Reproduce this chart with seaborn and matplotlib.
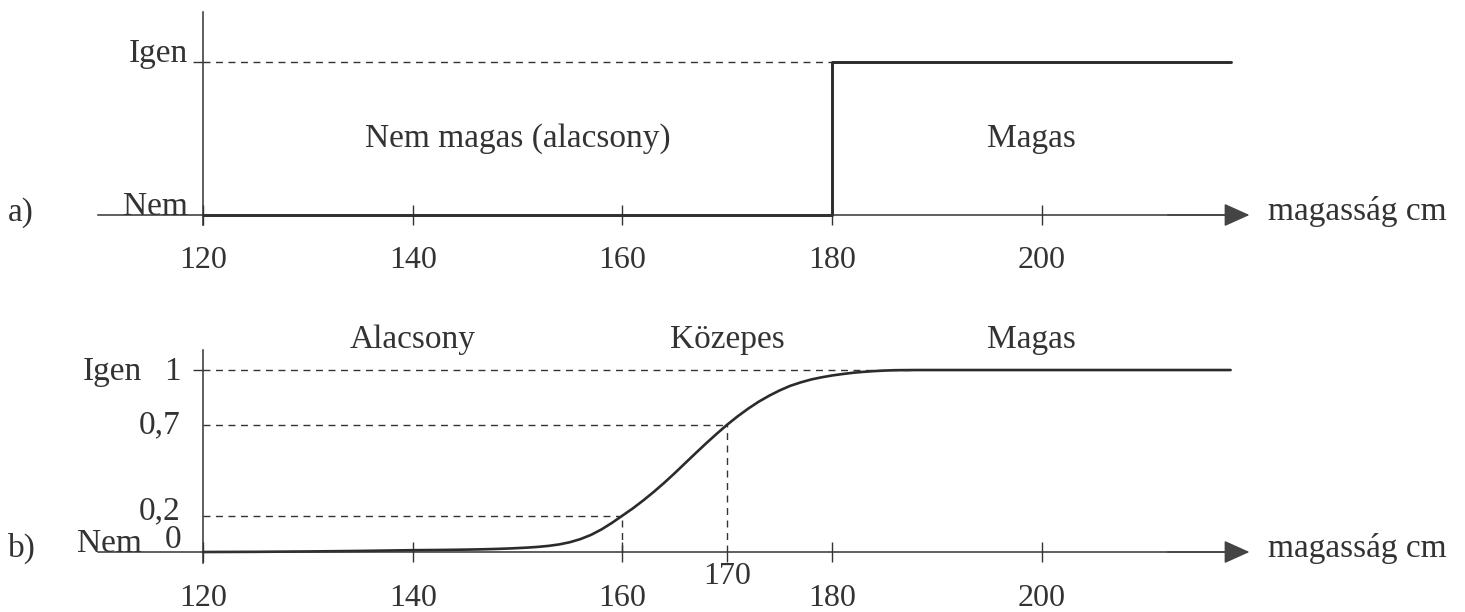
import matplotlib
matplotlib.use("Agg")
import matplotlib.pyplot as plt
import seaborn as sns
import pandas as pd

# ---------------- data ----------------
crisp_height = [120, 180, 180, 218]
crisp_member = [0, 0, 1, 1]

fuzzy_height = [120, 125, 130, 135, 140, 143, 145, 146, 147, 148, 149, 150, 151,
                152, 153, 154, 155, 156, 157, 158, 159, 160, 161, 162, 163, 164,
                165, 166, 167, 168, 169, 170, 171, 172, 173, 174, 175, 176, 177,
                178, 179, 180, 181, 182, 183, 184, 185, 186, 188, 190, 200, 218]
fuzzy_member = [0, 0.001, 0.003, 0.006, 0.01, 0.0115, 0.0131, 0.0141, 0.0154,
                0.017, 0.019, 0.0215, 0.0245, 0.0285, 0.034, 0.042, 0.054, 0.071,
                0.094, 0.124, 0.16, 0.2, 0.24, 0.284, 0.331, 0.381, 0.434, 0.489,
                0.544, 0.598, 0.65, 0.7, 0.746, 0.788, 0.826, 0.859, 0.888, 0.913,
                0.932, 0.948, 0.96, 0.97, 0.978, 0.985, 0.99, 0.994, 0.997, 0.999,
                1.0, 1.0, 1.0, 1.0]

major_ticks = [120, 140, 160, 180, 200]
extra_tick_b = [170]
marked_heights = [160, 170]
marked_levels = [0.2, 0.7]
axis_label = "magasság cm"
crisp_regions = ["Nem magas (alacsony)", "Magas"]
fuzzy_regions = ["Alacsony", "Közepes", "Magas"]

# ---------------- style ----------------
sns.set_style("ticks")
plt.rcParams["font.family"] = ["Liberation Serif", "DejaVu Serif"]
INK = "#333333"
FS = 24
TFS = 23
plt.rcParams["text.color"] = INK

fig = plt.figure(figsize=(14.65, 6.12), dpi=100)
fig.patch.set_facecolor("white")

L = 45.7 / 1465
W = (1304 - 45.7) / 1465
ax1 = fig.add_axes([L, 0.5737, W, 0.4125])
ax2 = fig.add_axes([L, 0.0088, W, 0.4312])

df_a = pd.DataFrame({"h": crisp_height, "m": crisp_member})
df_b = pd.DataFrame({"h": fuzzy_height, "m": fuzzy_member})


def setup(ax, ylim, vtop, vbot, pad):
    ax.set_xlim(105, 225)
    ax.set_ylim(*ylim)
    ax.set_facecolor("none")
    for s in ["top", "right"]:
        ax.spines[s].set_visible(False)
    ax.spines["left"].set_position(("data", 120))
    ax.spines["left"].set_bounds(vbot, vtop)
    ax.spines["bottom"].set_position(("data", 0))
    ax.spines["bottom"].set_bounds(110, 218)
    for s in ["left", "bottom"]:
        ax.spines[s].set_color(INK)
        ax.spines[s].set_linewidth(1.1)
    ax.set_xticks(major_ticks)
    ax.set_xticklabels([str(t) for t in major_ticks])
    ax.tick_params(axis="x", direction="inout", length=14.5, width=1.0,
                   color=INK, labelsize=TFS, labelcolor=INK, pad=pad)
    ax.set_yticks([1])
    ax.set_yticklabels([""])
    ax.tick_params(axis="y", direction="out", length=7, width=1.0, color=INK)
    ax.set_xlabel("")
    ax.set_ylabel("")
    ax.annotate("", xy=(219.8, 0), xytext=(212, 0),
                arrowprops=dict(arrowstyle="-|>,head_length=0.8,head_width=0.36",
                                mutation_scale=20, color="#444444", lw=1.1,
                                shrinkA=0, shrinkB=0))
    ax.text(221.6, 0.02, axis_label, fontsize=FS, ha="left", va="center",
            clip_on=False)


# ---------------- panel a ----------------
sns.lineplot(data=df_a, x="h", y="m", sort=False, estimator=None, ax=ax1,
             color="#2b2b2b", linewidth=2.1)
setup(ax1, (-0.3, 1.35), 1.327, -0.065, 15)
ax1.plot([120, crisp_height[1]], [1, 1], color=INK, lw=1.0, dashes=(5, 4))
ax1.text(150, 0.5, crisp_regions[0], fontsize=FS, ha="center", va="center")
ax1.text(199, 0.5, crisp_regions[1], fontsize=FS, ha="center", va="center")
ax1.text(118.6, 0.0, "Nem", fontsize=FS, ha="right", va="baseline", clip_on=False)
ax1.text(118.6, 1.0, "Igen", fontsize=FS, ha="right", va="baseline", clip_on=False)

# ---------------- panel b ----------------
sns.lineplot(data=df_b, x="h", y="m", sort=False, estimator=None, ax=ax2,
             color="#2b2b2b", linewidth=1.9)
setup(ax2, (-0.3, 1.15), 1.11, -0.06, 16)
ax2.set_xticks(extra_tick_b, minor=True)
ax2.set_xticklabels([str(t) for t in extra_tick_b], minor=True)
ax2.tick_params(axis="x", which="minor", direction="out", length=7, width=1.0,
                color=INK, labelsize=TFS, labelcolor=INK, pad=0)

ax2.plot([120, 188], [1, 1], color=INK, lw=1.0, dashes=(5, 4))
for h, lv in zip(marked_heights, marked_levels):
    ax2.plot([120, h], [lv, lv], color=INK, lw=1.0, dashes=(5, 4))
    ax2.plot([h, h], [0, lv], color=INK, lw=1.0, dashes=(5, 4))

ax2.text(140, 1.165, fuzzy_regions[0], fontsize=FS, ha="center", va="center", clip_on=False)
ax2.text(170, 1.165, fuzzy_regions[1], fontsize=FS, ha="center", va="center", clip_on=False)
ax2.text(199, 1.165, fuzzy_regions[2], fontsize=FS, ha="center", va="center", clip_on=False)

ax2.text(114.2, 0.99, "Igen", fontsize=FS, ha="right", va="center", clip_on=False)
ax2.text(117.9, 0.99, "1", fontsize=FS, ha="right", va="center", clip_on=False)
ax2.text(117.9, 0.7, "0,7", fontsize=FS, ha="right", va="center", clip_on=False)
ax2.text(117.9, 0.178, "0,2", fontsize=FS, ha="right", va="baseline", clip_on=False)
ax2.text(117.9, 0.02, "0", fontsize=FS, ha="right", va="baseline", clip_on=False)
ax2.text(114.2, 0.0, "Nem", fontsize=FS, ha="right", va="baseline", clip_on=False)

fig.text(8 / 1465, 1 - 213 / 612, "a)", fontsize=FS, ha="left", va="center")
fig.text(8 / 1465, 1 - 548 / 612, "b)", fontsize=FS, ha="left", va="center")

fig.savefig("out.png", dpi=100, facecolor="white")
